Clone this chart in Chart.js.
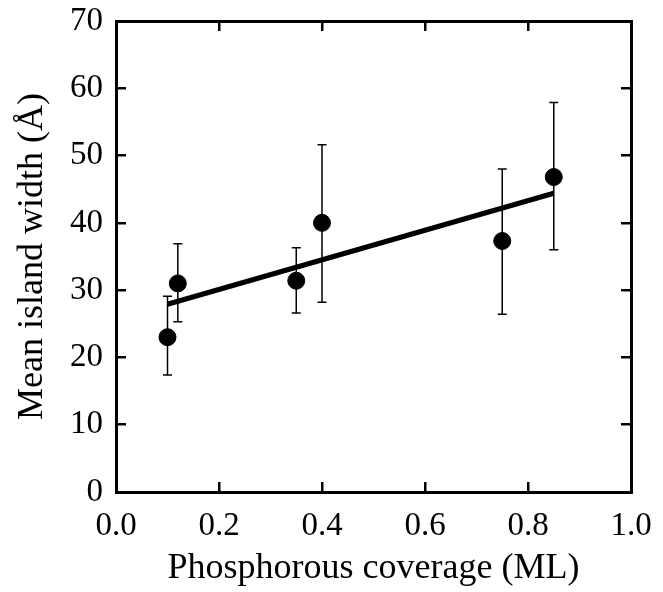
<!DOCTYPE html>
<html lang="en">
<head>
    <meta charset="UTF-8">
    <title>Mean island width vs phosphorous coverage</title>
    <style>
        body {
            margin: 0;
            padding: 0;
            background: #fff;
        }
        .chart-box {
            width: 663px;
            height: 592px;
        }
    </style>
</head>
<body>
    <div class="chart-box">
        <canvas id="widthChart"></canvas>
    </div>

    <script src="https://cdn.jsdelivr.net/npm/chart.js"></script>
    <script>
        // values
        const coverage = [0.10, 0.12, 0.35, 0.40, 0.75, 0.85];
        const meanWidth = [23.0, 31.0, 31.4, 40.0, 37.3, 46.8];
        const errLow = [17.4, 25.3, 26.6, 28.2, 26.4, 36.0];
        const errHigh = [29.1, 36.9, 36.3, 51.6, 48.0, 57.9];

        // linear fit drawn in the figure
        const fitX = [0.10, 0.85];
        const fitY = [27.9, 44.4];

        const serif = "'Liberation Serif', 'DejaVu Serif', serif";

        // vertical error bars, placed through the chart's own scales
        const errorBars = {
            id: 'errorBars',
            beforeDatasetsDraw(chart) {
                const ctx = chart.ctx;
                const xs = chart.scales.x;
                const ys = chart.scales.y;
                ctx.save();
                ctx.strokeStyle = '#000';
                ctx.lineWidth = 1.5;
                coverage.forEach((c, i) => {
                    const px = xs.getPixelForValue(c);
                    const top = ys.getPixelForValue(errHigh[i]);
                    const bot = ys.getPixelForValue(errLow[i]);
                    ctx.beginPath();
                    ctx.moveTo(px, top);
                    ctx.lineTo(px, bot);
                    ctx.moveTo(px - 4.5, top);
                    ctx.lineTo(px + 4.5, top);
                    ctx.moveTo(px - 4.5, bot);
                    ctx.lineTo(px + 4.5, bot);
                    ctx.stroke();
                });
                ctx.restore();
            }
        };

        function frameAxis(extra) {
            return Object.assign({
                type: 'linear',
                border: { display: true, color: '#000', width: 3 },
                grid: {
                    drawOnChartArea: false,
                    drawTicks: true,
                    tickLength: -10,
                    color: '#000',
                    lineWidth: 2.5
                }
            }, extra);
        }

        // fixed axis boxes so the plot frame lands where the figure has it
        function fixHeight(h) {
            return s => {
                s.height = h;
                s.paddingLeft = 0;
                s.paddingRight = 0;
            };
        }
        function fixWidth(w) {
            return s => {
                s.width = w;
                s.paddingTop = 0;
                s.paddingBottom = 0;
            };
        }

        const ctx = document.getElementById('widthChart').getContext('2d');
        new Chart(ctx, {
            type: 'scatter',
            data: {
                datasets: [{
                    type: 'line',
                    label: 'fit',
                    data: fitX.map((x, i) => ({ x: x, y: fitY[i] })),
                    borderColor: '#000',
                    borderWidth: 5,
                    pointRadius: 0,
                    fill: false
                }, {
                    label: 'Mean island width',
                    data: coverage.map((x, i) => ({ x: x, y: meanWidth[i] })),
                    backgroundColor: '#000',
                    borderColor: '#000',
                    pointRadius: 8.5,
                    pointHoverRadius: 8.5
                }]
            },
            options: {
                responsive: true,
                maintainAspectRatio: false,
                animation: false,
                layout: { padding: 0 },
                plugins: {
                    legend: { display: false },
                    tooltip: { enabled: false }
                },
                scales: {
                    x: frameAxis({
                        position: 'bottom',
                        min: 0,
                        max: 1,
                        afterFit: fixHeight(100),
                        ticks: {
                            stepSize: 0.2,
                            color: '#000',
                            padding: 25,
                            maxRotation: 0,
                            font: { family: serif, size: 33 },
                            callback: v => v.toFixed(1)
                        },
                        title: {
                            display: true,
                            text: 'Phosphorous coverage (ML)',
                            color: '#000',
                            font: { family: serif, size: 36 },
                            padding: { top: 0, bottom: 2 }
                        }
                    }),
                    y: frameAxis({
                        position: 'left',
                        min: 0,
                        max: 70,
                        afterFit: fixWidth(116),
                        ticks: {
                            stepSize: 10,
                            color: '#000',
                            padding: 23,
                            font: { family: serif, size: 33 }
                        },
                        title: {
                            display: true,
                            text: 'Mean island width (Å)',
                            color: '#000',
                            font: { family: serif, size: 36 },
                            padding: { top: 11, bottom: 0 }
                        }
                    }),
                    x2: frameAxis({
                        position: 'top',
                        min: 0,
                        max: 1,
                        afterFit: fixHeight(21),
                        ticks: { display: false, stepSize: 0.2 }
                    }),
                    y2: frameAxis({
                        position: 'right',
                        min: 0,
                        max: 70,
                        afterFit: fixWidth(32),
                        ticks: { display: false, stepSize: 10 }
                    })
                }
            },
            plugins: [errorBars]
        });
    </script>
</body>
</html>
